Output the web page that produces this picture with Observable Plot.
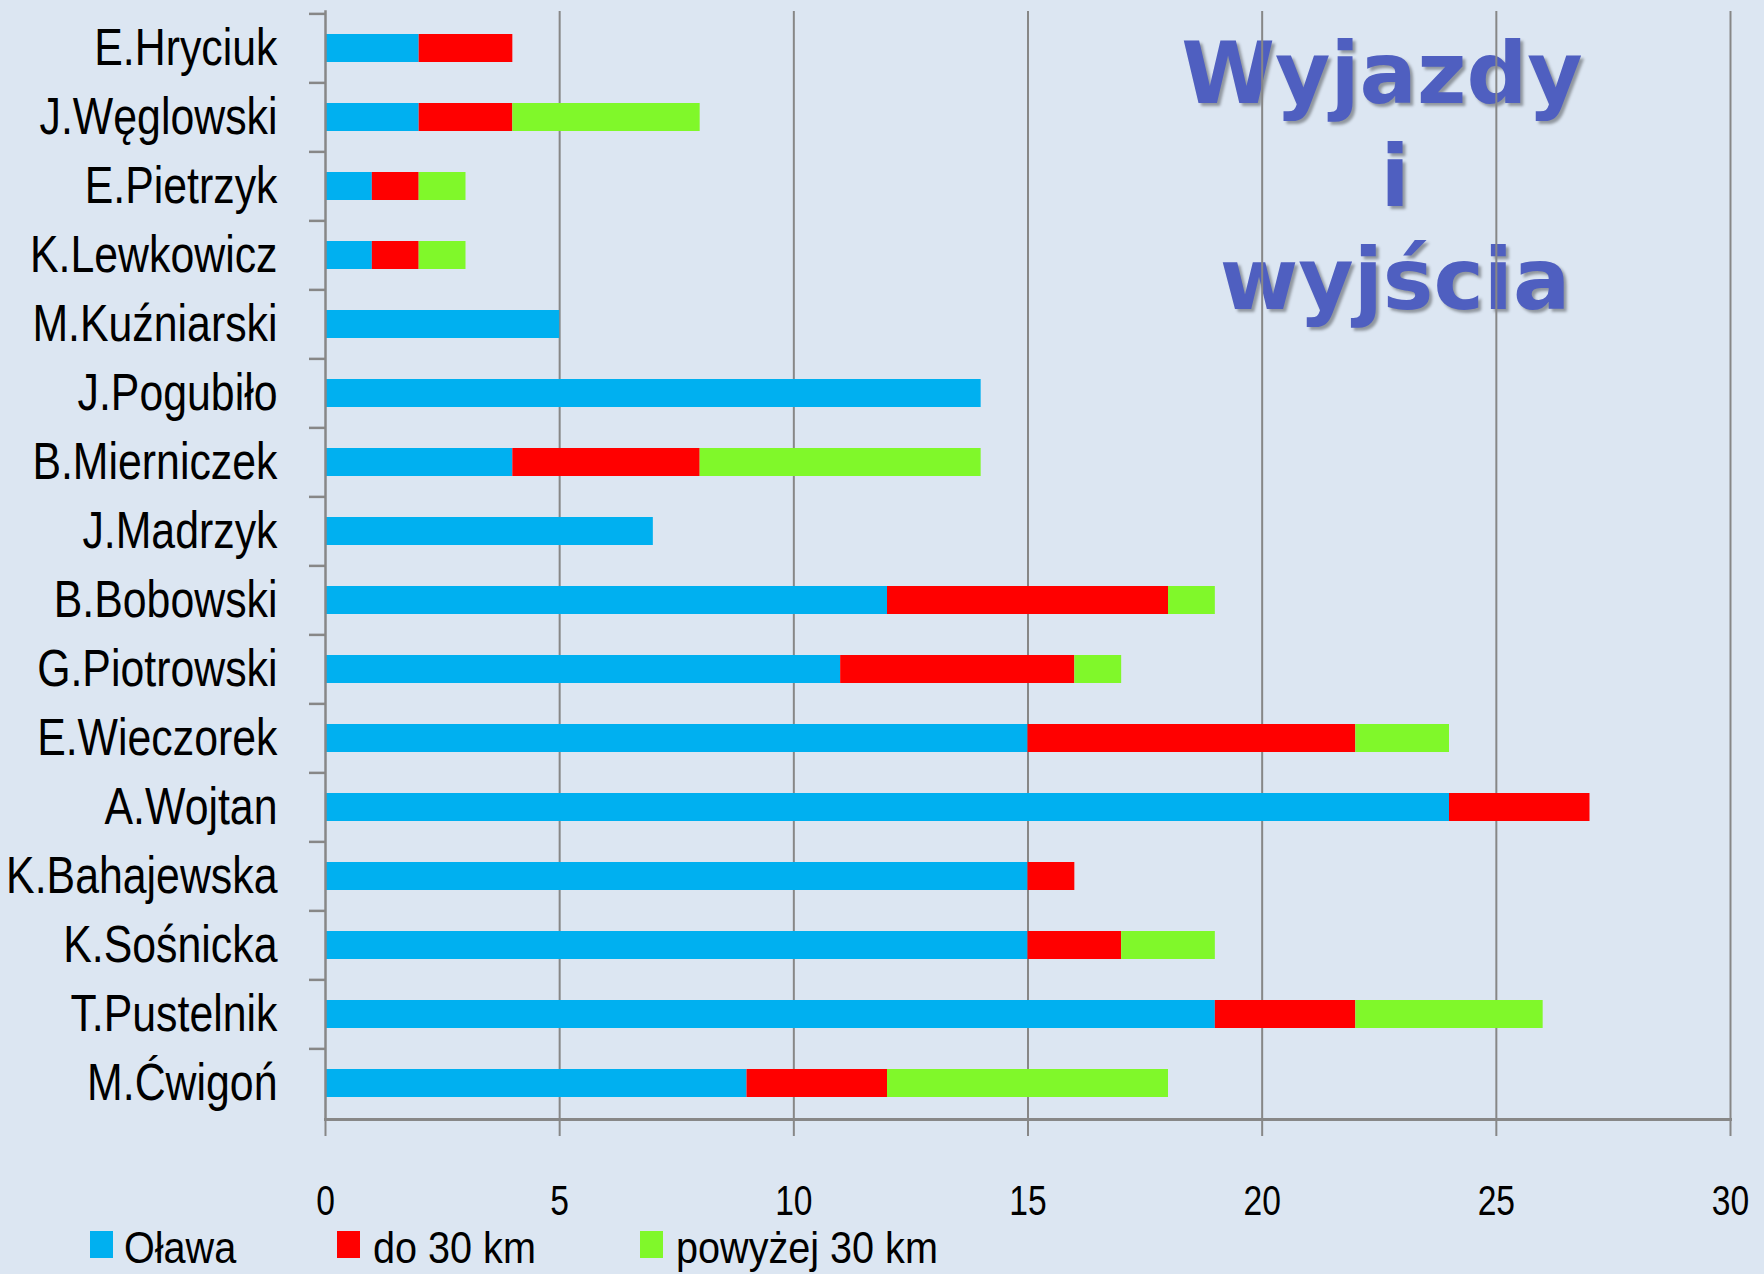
<!DOCTYPE html>
<html><head><meta charset="utf-8">
<script src="https://cdn.jsdelivr.net/npm/d3@7"></script>
<script src="https://cdn.jsdelivr.net/npm/@observablehq/plot@0.6"></script>
<style>
html,body{margin:0;padding:0;background:#DCE6F2;width:1764px;height:1274px;overflow:hidden;}
body{position:relative;font-family:"Liberation Sans Narrow","Arial Narrow","Liberation Sans",sans-serif;}
#title{position:absolute;left:1145px;top:22px;width:500px;text-align:center;font-family:"DejaVu Sans",sans-serif;font-weight:bold;font-size:85px;line-height:103px;color:#4F5FC0;text-shadow:3px 3px 3px rgba(0,0,0,0.35);z-index:0;}
#title .l1{position:relative;left:-13px;}
#chart{position:absolute;left:0;top:0;z-index:1;}
#legend{position:absolute;left:0;top:0;width:1764px;height:1274px;z-index:2;pointer-events:none;}
.sw{position:absolute;width:23px;height:27px;top:1231px;}
.lt{position:absolute;top:1225px;font-size:45px;line-height:45px;color:#000;white-space:nowrap;transform:scaleX(0.88);transform-origin:left center;}
</style></head><body>
<div id="title"><span class="l1">Wyjazdy</span><br>i<br>wyjścia</div>
<div id="chart"></div>
<div id="legend"></div>
<script>
const names = ["E.Hryciuk","J.Węglowski","E.Pietrzyk","K.Lewkowicz","M.Kuźniarski","J.Pogubiło","B.Mierniczek","J.Madrzyk","B.Bobowski","G.Piotrowski","E.Wieczorek","A.Wojtan","K.Bahajewska","K.Sośnicka","T.Pustelnik","M.Ćwigoń"];
const olawa      = [2,2,1,1,5,14,4,7,12,11,15,24,15,15,19,9];
const do30       = [2,2,1,1,0,0,4,0,6,5,7,3,1,2,3,3];
const powyzej30  = [0,4,1,1,0,0,6,0,1,1,2,0,0,2,4,6];
const seriesNames = ["Oława","do 30 km","powyżej 30 km"];
const seriesColors = ["#00B0F0","#FF0000","#80F82A"];
const xTicks = [0,5,10,15,20,25,30];

const seriesValues = [olawa, do30, powyzej30];
const rows = [];
names.forEach((n,i)=>seriesNames.forEach((s,j)=>rows.push({name:n, series:s, value:seriesValues[j][i]})));

const W=1764, H=1225, top0=11, axisY0=1119, left0=325, right0=1730;
const step=(axisY0-top0)/names.length;
const gray="#878787";
const font='"Liberation Sans Narrow","Arial Narrow","Liberation Sans",sans-serif';

const chart = Plot.plot({
  width:W, height:H,
  marginTop:top0, marginBottom:H-axisY0, marginLeft:left0, marginRight:W-right0,
  style:{background:"transparent", fontFamily:font, color:"black", overflow:"visible"},
  x:{domain:[0,30]},
  y:{domain:names, paddingInner:0.6, paddingOuter:0.3, align:0.5},
  color:{domain:seriesNames, range:seriesColors},
  marks:[
    Plot.ruleX(xTicks.filter(d=>d>0), {stroke:gray, strokeWidth:2}),
    Plot.barX(rows, {y:"name", x:"value", fill:"series"}),
    Plot.frame({anchor:"left", stroke:gray, strokeWidth:2.5}),
    Plot.frame({anchor:"bottom", stroke:gray, strokeWidth:3}),
    Plot.axisX({ticks:xTicks, tickSize:17, tickPadding:49, stroke:gray, strokeWidth:2, fill:"black", fontSize:42, tickFormat:d=>String(d), label:null}),
    Plot.axisY({tickSize:16, text:null, dy:-step/2, stroke:gray, strokeWidth:2.5, label:null}),
    Plot.axisY({tickSize:0, tickPadding:48, fill:"black", fontSize:51, label:null})
  ]
});
document.getElementById("chart").appendChild(chart);

// condense the axis labels horizontally (narrow font look), keeping their anchors
function condense(sel, k){
  d3.select(chart).selectAll(sel).each(function(){
    const t = this.getAttribute("transform") || "";
    this.setAttribute("transform", (t + " scale(" + k + ",1)").trim());
  });
}
condense('g[aria-label="y-axis tick label"] text', 0.84);
condense('g[aria-label="x-axis tick label"] text', 0.8);

const legendX = [{sw:90, tx:124},{sw:337, tx:373},{sw:640, tx:676}];
const leg = document.getElementById("legend");
seriesNames.forEach((s,i)=>{
  const sw=document.createElement("div"); sw.className="sw"; sw.style.left=legendX[i].sw+"px"; sw.style.background=seriesColors[i]; leg.appendChild(sw);
  const t=document.createElement("div"); t.className="lt"; t.style.left=legendX[i].tx+"px"; t.textContent=s; leg.appendChild(t);
});
</script>
</body></html>
